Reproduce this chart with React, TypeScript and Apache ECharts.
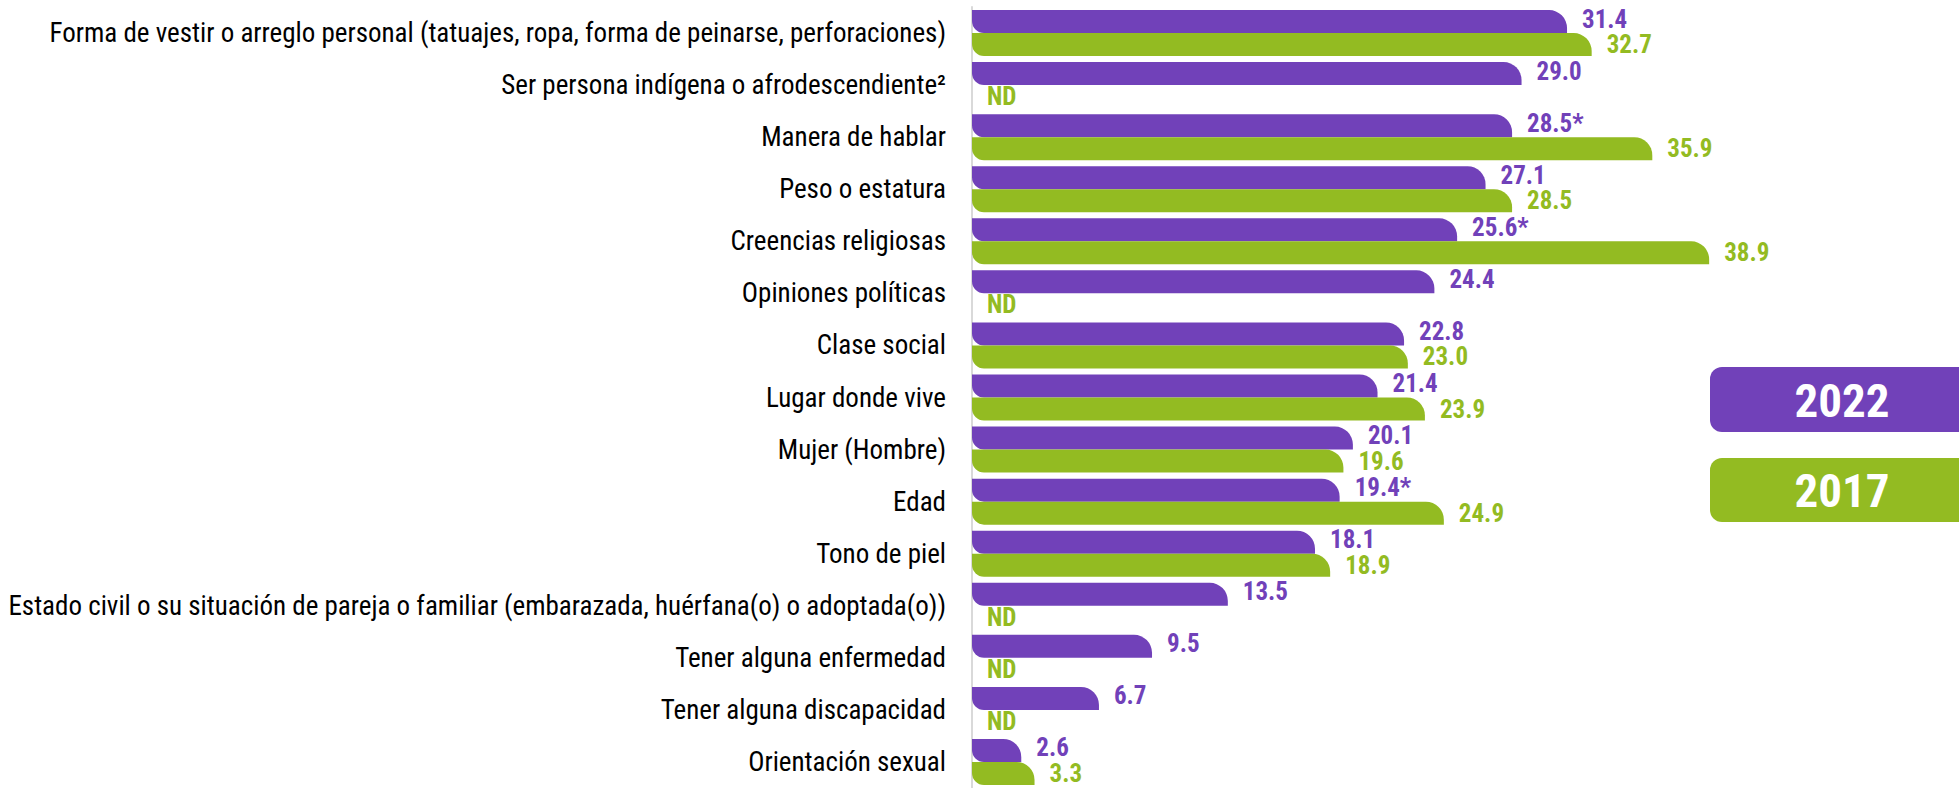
import React, { useEffect, useRef } from "react";
import * as echarts from "echarts";

const categories: string[] = [
  "Forma de vestir o arreglo personal (tatuajes, ropa, forma de peinarse, perforaciones)",
  "Ser persona indígena o afrodescendiente²",
  "Manera de hablar",
  "Peso o estatura",
  "Creencias religiosas",
  "Opiniones políticas",
  "Clase social",
  "Lugar donde vive",
  "Mujer (Hombre)",
  "Edad",
  "Tono de piel",
  "Estado civil o su situación de pareja o familiar (embarazada, huérfana(o) o adoptada(o))",
  "Tener alguna enfermedad",
  "Tener alguna discapacidad",
  "Orientación sexual",
];

const values2022: number[] = [31.4, 29.0, 28.5, 27.1, 25.6, 24.4, 22.8, 21.4, 20.1, 19.4, 18.1, 13.5, 9.5, 6.7, 2.6];
const values2017: (number | null)[] = [32.7, null, 35.9, 28.5, 38.9, null, 23.0, 23.9, 19.6, 24.9, 18.9, null, null, null, 3.3];
const significant2022: boolean[] = [false, false, true, false, true, false, false, false, false, true, false, false, false, false, false];

const seriesNames = ["2022", "2017"];
const PURPLE = "#7141b9";
const GREEN = "#93bb22";
const NARROW = "'Liberation Sans Narrow', 'Arial Narrow', 'Roboto Condensed', 'DejaVu Sans Condensed', Arial, sans-serif";

export default function App() {
  const ref = useRef<HTMLDivElement>(null);
  useEffect(() => {
    if (!ref.current) return;
    const chart = echarts.init(ref.current, null, { renderer: "svg" });
    const valueLabel = (color: string, dy: number) => ({
      show: true,
      position: "right" as const,
      distance: 15,
      offset: [0, dy],
      color,
      fontFamily: NARROW,
      fontWeight: "bold" as const,
      fontSize: 25,
      lineHeight: 21,
    });
    chart.setOption({
      animation: false,
      backgroundColor: "#ffffff",
      grid: { left: 972, top: 7, width: 758, height: 781 },
      xAxis: { type: "value", min: 0, max: 40, show: false },
      yAxis: {
        type: "category",
        data: categories,
        inverse: true,
        axisLine: { show: true, lineStyle: { color: "#d9d9d9", width: 2 } },
        axisTick: { show: false },
        axisLabel: { margin: 26, fontSize: 27, color: "#000000", fontFamily: NARROW },
      },
      series: [
        {
          name: seriesNames[0],
          type: "bar",
          barWidth: 23,
          barGap: "0%",
          data: values2022.map((v, i) => ({
            value: v,
            label: { formatter: v.toFixed(1) + (significant2022[i] ? "*" : "") },
          })),
          itemStyle: { color: PURPLE, borderRadius: [0, 18, 0, 12] },
          label: valueLabel(PURPLE, -2.5),
        },
        {
          name: seriesNames[1],
          type: "bar",
          barWidth: 23,
          barGap: "0%",
          data: values2017.map((v) =>
            v === null ? { value: 0, label: { formatter: "ND" } } : { value: v, label: { formatter: v.toFixed(1) } }
          ),
          itemStyle: { color: GREEN, borderRadius: [0, 18, 0, 12] },
          label: valueLabel(GREEN, 0),
        },
      ],
      graphic: [
        { type: "rect", left: 1710, top: 367, shape: { width: 280, height: 65, r: [12, 0, 0, 12] }, style: { fill: PURPLE } },
        { type: "rect", left: 1710, top: 458, shape: { width: 280, height: 64, r: [12, 0, 0, 12] }, style: { fill: GREEN } },
        {
          type: "text", x: 1842, y: 400, style: { text: seriesNames[0], fill: "#ffffff", font: `bold 47px ${NARROW}`, align: "center", verticalAlign: "middle" },
        },
        {
          type: "text", x: 1842, y: 490, style: { text: seriesNames[1], fill: "#ffffff", font: `bold 47px ${NARROW}`, align: "center", verticalAlign: "middle" },
        },
      ],
    });
    return () => chart.dispose();
  }, []);
  return <div ref={ref} style={{ position: "fixed", left: 0, top: 0, width: 1959, height: 788 }} />;
}
